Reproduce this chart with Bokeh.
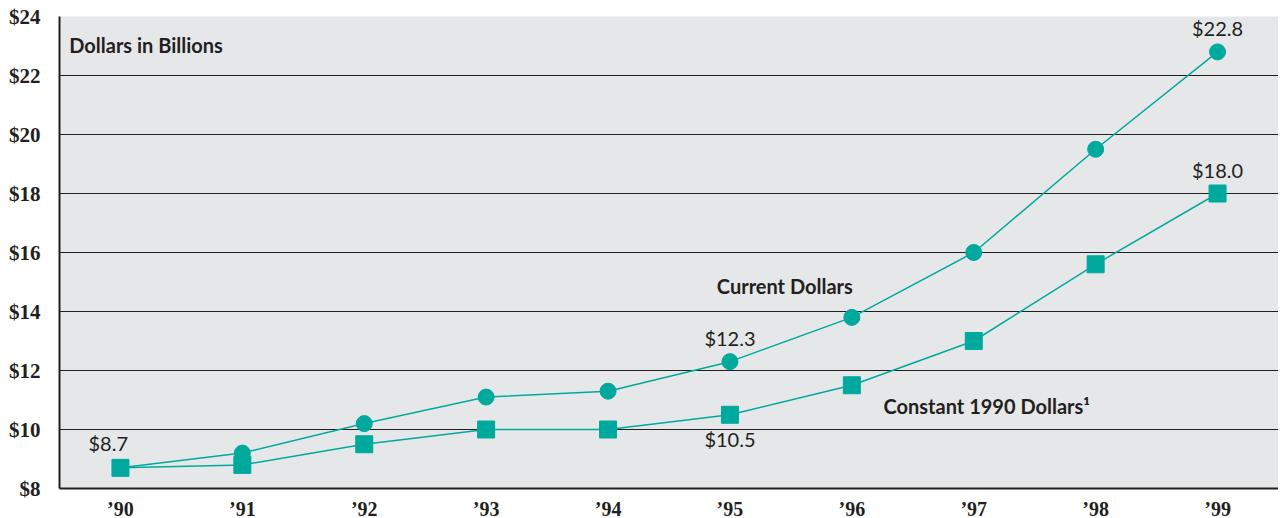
from bokeh.plotting import figure
from bokeh.models import ColumnDataSource, FixedTicker, Label, Range1d
from bokeh.embed import file_html
from bokeh.resources import INLINE

years = ["’90", "’91", "’92", "’93", "’94", "’95", "’96", "’97", "’98", "’99"]
current = [8.7, 9.2, 10.2, 11.1, 11.3, 12.3, 13.8, 16.0, 19.5, 22.8]
constant = [8.7, 8.8, 9.5, 10.0, 10.0, 10.5, 11.5, 13.0, 15.6, 18.0]
y_ticks = [8, 10, 12, 14, 16, 18, 20, 22, 24]
y_tick_labels = ["$" + str(t) for t in y_ticks]

TEAL = "#00a99d"
INK = "#231f20"
xs = list(range(len(years)))

p = figure(frame_width=1219, frame_height=472, output_backend="svg", toolbar_location=None,
           x_range=Range1d(-0.5, 9.5), y_range=Range1d(8, 24),
           min_border_left=59, min_border_right=0, min_border_top=16, min_border_bottom=0)
p.background_fill_color = "#e6e7e9"
p.border_fill_color = "white"
p.outline_line_color = None

p.xaxis.ticker = FixedTicker(ticks=xs)
p.xaxis.major_label_overrides = {i: y for i, y in enumerate(years)}
p.yaxis.ticker = FixedTicker(ticks=y_ticks)
p.yaxis.major_label_overrides = {t: l for t, l in zip(y_ticks, y_tick_labels)}
for ax in (p.xaxis, p.yaxis):
    ax.major_tick_line_color = None
    ax.minor_tick_line_color = None
    ax.axis_line_color = INK
    ax.axis_line_width = 2
    ax.major_label_text_font = "Liberation Serif"
    ax.major_label_text_font_style = "bold"
    ax.major_label_text_font_size = "21px"
    ax.major_label_text_color = INK
p.xaxis.major_label_text_font_size = "20px"
p.xaxis.major_label_standoff = 3
p.yaxis.major_label_standoff = 13
p.xgrid.grid_line_color = None
p.ygrid.grid_line_color = INK
p.ygrid.grid_line_width = 1.2

src = ColumnDataSource(dict(x=xs, cur=current, con=constant))
p.line("x", "cur", source=src, color=TEAL, line_width=1.5)
p.line("x", "con", source=src, color=TEAL, line_width=1.5)
p.scatter("x", "cur", source=src, marker="circle", size=16, color=TEAL)
p.scatter("x", "con", source=src, marker="square", size=17, color=TEAL)

def lab(x, y, text, bold=False, align="center", base="middle", size="20px"):
    p.add_layout(Label(x=x, y=y, text=text, text_font="Lato",
                       text_font_style="bold" if bold else "normal",
                       text_font_size=size, text_color=INK,
                       text_align=align, text_baseline=base))

lab(-0.1, constant[0] + 0.45, "$" + format(constant[0], ".1f"), base="bottom")
lab(5, current[5] + 0.4, "$" + format(current[5], ".1f"), base="bottom")
lab(5, constant[5] - 0.4, "$" + format(constant[5], ".1f"), base="top")
lab(9, current[9] + 0.4, "$" + format(current[9], ".1f"), base="bottom")
lab(9, constant[9] + 0.4, "$" + format(constant[9], ".1f"), base="bottom")
lab(5.45, 14.88, "Current Dollars", bold=True)
lab(6.26, 10.78, "Constant 1990 Dollars¹", bold=True, align="left")
lab(-0.42, 23.05, "Dollars in Billions", bold=True, align="left")

open("out.html", "w").write(file_html(p, INLINE))
